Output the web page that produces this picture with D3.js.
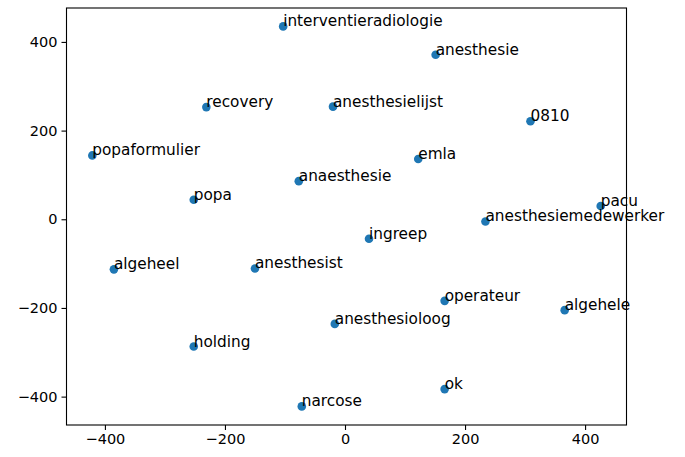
<!DOCTYPE html>
<html>
<head>
<meta charset="utf-8">
<script src="https://cdn.jsdelivr.net/npm/d3@7"></script>
<style>
  html, body { margin: 0; padding: 0; background: #fff; }
  svg { display: block; }
</style>
</head>
<body>
<div id="chart"></div>
<script>
// word embedding projection
const words = ['interventieradiologie', 'anesthesie', 'recovery', 'anesthesielijst', '0810',
  'popaformulier', 'emla', 'anaesthesie', 'popa', 'pacu', 'anesthesiemedewerker', 'ingreep',
  'algeheel', 'anesthesist', 'operateur', 'algehele', 'anesthesioloog', 'holding', 'ok', 'narcose'];
const xs = [-103, 151, -231, -20, 309, -421, 122, -77, -252, 426, 234, 40,
  -385, -150, 166, 366, -17, -252, 166, -72];
const ys = [435, 371, 253, 254, 221, 144, 136, 86, 44, 30, -5, -44,
  -113, -111, -184, -205, -236, -287, -383, -422];
const xTicks = [-400, -200, 0, 200, 400];
const yTicks = [-400, -200, 0, 200, 400];

const width = 685, height = 457;
const margin = { left: 66.5, top: 8, right: 58.5, bottom: 32 };
const font = 'DejaVu Sans, sans-serif';

const svg = d3.select('#chart').append('svg')
  .attr('width', width).attr('height', height);

const x = d3.scaleLinear().domain([-464, 469])
  .range([margin.left, width - margin.right]);
const y = d3.scaleLinear().domain([-464, 476.5])
  .range([height - margin.bottom, margin.top]);

const points = words.map((w, i) => ({ word: w, x: xs[i], y: ys[i] }));

// axes
const xAxis = svg.append('g')
  .attr('transform', `translate(0,${height - margin.bottom})`)
  .call(d3.axisBottom(x).tickValues(xTicks).tickSize(5).tickPadding(4)
    .tickFormat(d => d < 0 ? '\u2212' + Math.abs(d) : d));
const yAxis = svg.append('g')
  .attr('transform', `translate(${margin.left},0)`)
  .call(d3.axisLeft(y).tickValues(yTicks).tickSize(5).tickPadding(4)
    .tickFormat(d => d < 0 ? '\u2212' + Math.abs(d) : d));

[xAxis, yAxis].forEach(g => {
  g.select('.domain').remove();
  g.selectAll('.tick line').attr('stroke', '#000').attr('stroke-width', 1.1);
  g.selectAll('.tick text')
    .attr('fill', '#000')
    .attr('font-size', '14.5px')
    .attr('font-family', font);
});

// frame
svg.append('rect')
  .attr('x', margin.left).attr('y', margin.top)
  .attr('width', width - margin.left - margin.right)
  .attr('height', height - margin.top - margin.bottom)
  .attr('fill', 'none')
  .attr('stroke', '#000')
  .attr('stroke-width', 1.1);

// dots
svg.append('g').selectAll('circle')
  .data(points).join('circle')
  .attr('cx', d => x(d.x))
  .attr('cy', d => y(d.y))
  .attr('r', 4.3)
  .attr('fill', '#1f77b4');

// labels, baseline at the point
svg.append('g').selectAll('text')
  .data(points).join('text')
  .attr('x', d => x(d.x))
  .attr('y', d => y(d.y))
  .attr('fill', '#000')
  .attr('font-size', '15.3px')
  .attr('font-family', font)
  .text(d => d.word);
</script>
</body>
</html>
